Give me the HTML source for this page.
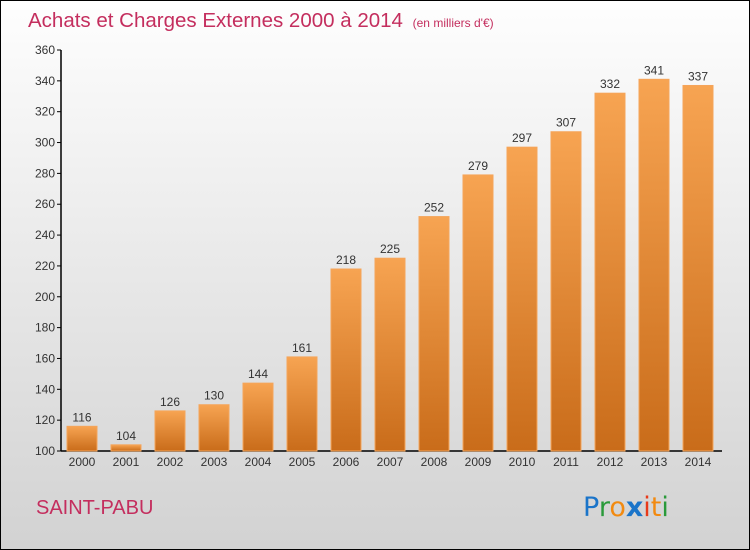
<!DOCTYPE html>
<html><head><meta charset="utf-8"><style>
html,body{margin:0;padding:0}
body{width:750px;height:550px;overflow:hidden;font-family:"Liberation Sans",sans-serif}
#wrap{position:absolute;left:0;top:0;width:748px;height:548px;border:1px solid #000;background:linear-gradient(#fefefe,#d2d2d2)}
</style></head><body>
<div id="wrap">
<svg id="chart" width="750" height="550" style="position:absolute;left:-1px;top:-1px">
<defs><linearGradient id="bg" x1="0" y1="0" x2="0" y2="1"><stop offset="0" stop-color="#f7a452"/><stop offset="1" stop-color="#c96c1a"/></linearGradient></defs>
<text x="28" y="27" font-size="20.5" fill="#c42e5e">Achats et Charges Externes 2000 à 2014 <tspan font-size="12" dx="4">(en milliers d'€)</tspan></text>
<text x="36" y="514" font-size="20" fill="#c42e5e">SAINT-PABU</text>
<g font-size="27" font-family="'DejaVu Sans',sans-serif">
<text x="583" y="516"><tspan fill="#1a74c9">P</tspan><tspan fill="#2a9a3a">r</tspan><tspan fill="#f28a10">o</tspan><tspan fill="#1a74c9" font-weight="bold">x</tspan><tspan fill="#e83a1a">i</tspan><tspan fill="#f28a10">t</tspan><tspan fill="#2a9a3a">i</tspan></text></g>
<g id="axes"></g><g id="bars"></g>
</svg></div>
<script>
const years=["2000","2001","2002","2003","2004","2005","2006","2007","2008","2009","2010","2011","2012","2013","2014"];
const values=[116,104,126,130,144,161,218,225,252,279,297,307,332,341,337];
const yTicks=[100,120,140,160,180,200,220,240,260,280,300,320,340,360];
const NS="http://www.w3.org/2000/svg";
const y0=451,y1=50,vmin=100,vmax=360;
function yS(v){return y0-(v-vmin)/(vmax-vmin)*(y0-y1);}
function xS(i){return 67+i*44;}
function mk(t,a,p){const e=document.createElementNS(NS,t);for(const k in a)e.setAttribute(k,a[k]);p.appendChild(e);return e;}
const ax=document.getElementById('axes'),bs=document.getElementById('bars');
const yl=mk('line',{x1:61,y1:y1,x2:61,y2:y0,stroke:'#000','stroke-width':1.5},ax);


const xl=mk('line',{x1:61,y1:y0,x2:722,y2:y0,stroke:'#000','stroke-width':1.5},ax);


yTicks.forEach(v=>{const y=yS(v);
mk('line',{x1:57,y1:y,x2:61,y2:y,stroke:'#000'},ax);
const t=mk('text',{x:55,y:y+4,'font-size':12,fill:'#333','text-anchor':'end'},ax);t.textContent=v;

});
years.forEach((yr,i)=>{const x=xS(i),v=values[i],y=yS(v);
const r=mk('rect',{x:x,y:y,width:30,height:y0-y,fill:'url(#bg)',stroke:'#f5a55a','stroke-width':1},bs);


const l=mk('text',{x:x+15,y:y-5,'font-size':12,fill:'#333','text-anchor':'middle'},bs);l.textContent=v;


const tx=mk('text',{x:x+15,y:466,'font-size':12,fill:'#333','text-anchor':'middle'},ax);tx.textContent=yr;

});
</script>
</body></html>
